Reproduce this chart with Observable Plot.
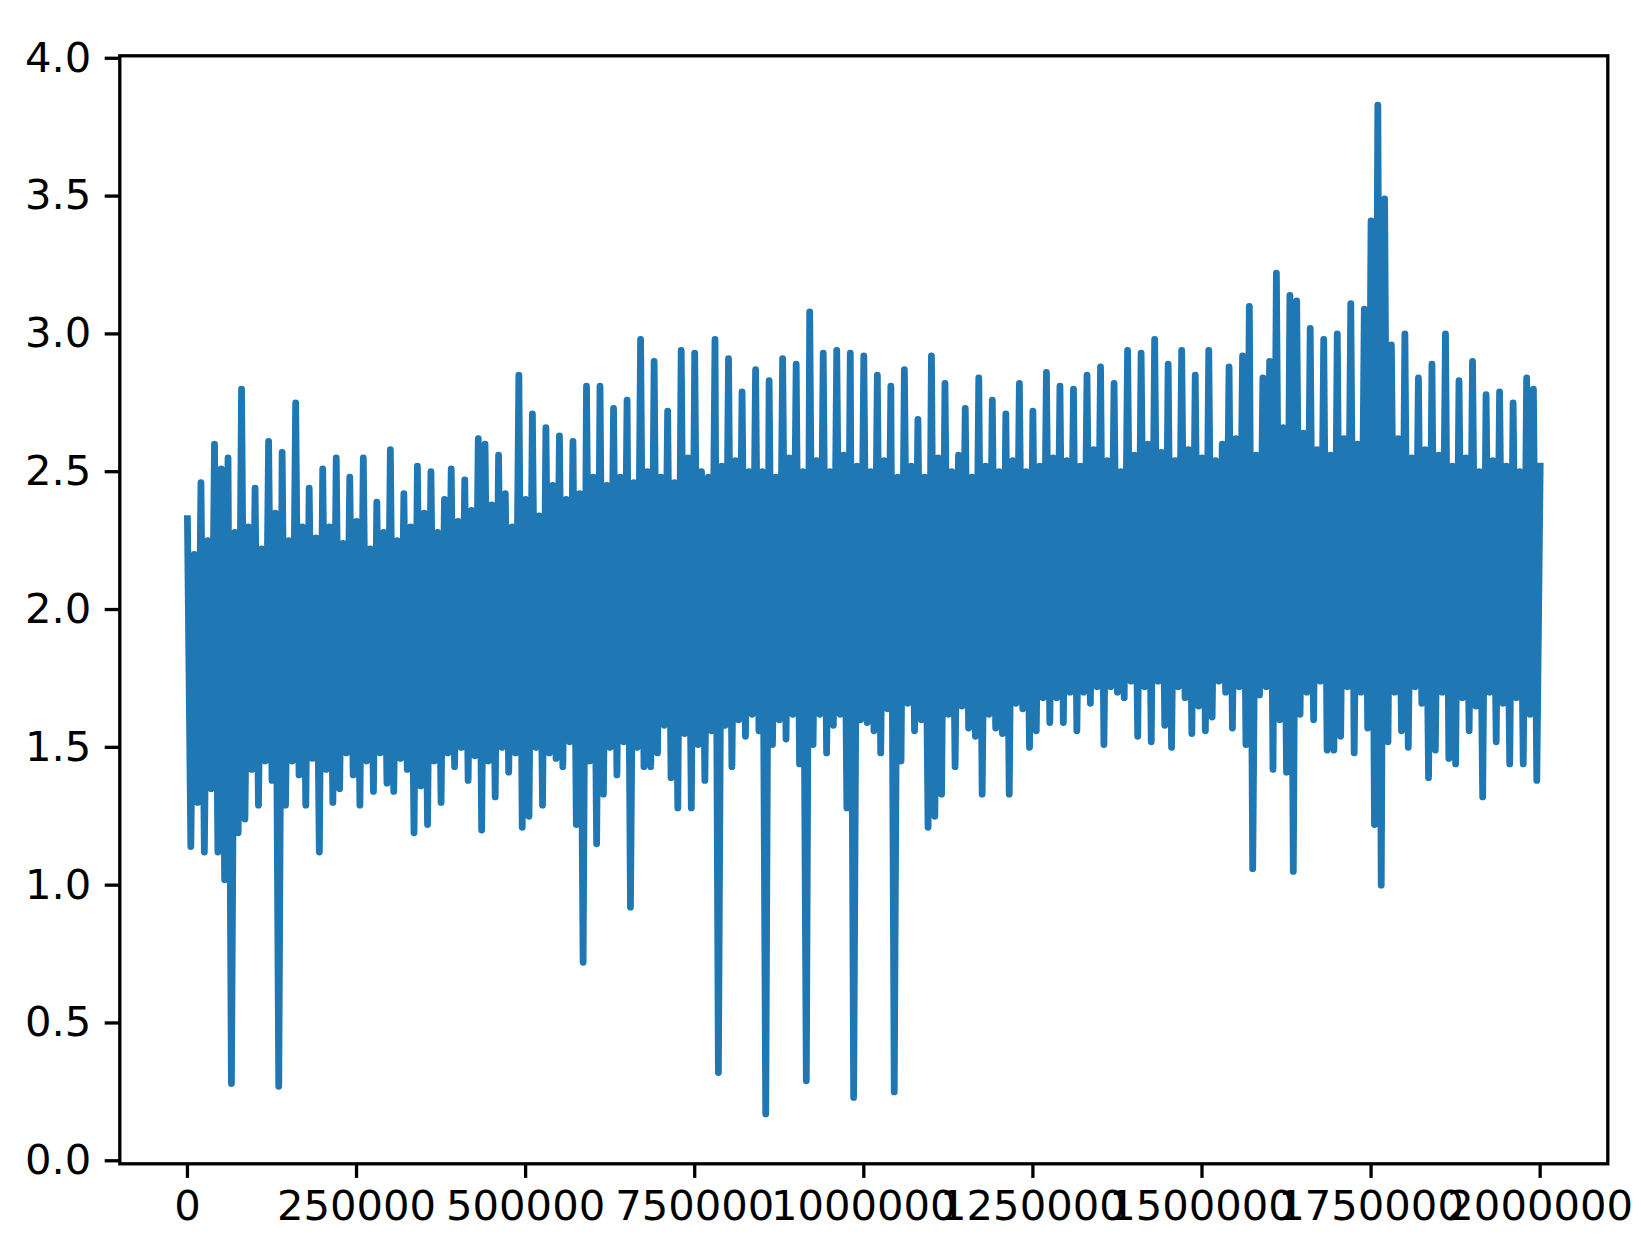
<!DOCTYPE html>
<html>
<head>
<meta charset="utf-8">
<script src="https://cdn.jsdelivr.net/npm/d3@7"></script>
<script src="https://cdn.jsdelivr.net/npm/@observablehq/plot@0.6"></script>
<style>
  html, body { margin: 0; padding: 0; background: #ffffff; }
  #chart { width: 1641px; height: 1241px; }
</style>
</head>
<body>
<div id="chart"></div>
<script>
// Sample spacing along x (one peak + one trough per step)
const sampleStep = 10000;

// Local maxima (one per step, starting at x = 0)
const peakValues = [
  2.33, 2.20, 2.46, 2.25, 2.60, 2.51, 2.55, 2.28, 2.80, 2.30,
  2.44, 2.22, 2.61, 2.35, 2.57, 2.25, 2.75, 2.30, 2.44, 2.26,
  2.51, 2.30, 2.55, 2.24, 2.48, 2.32, 2.55, 2.22, 2.39, 2.28,
  2.58, 2.25, 2.42, 2.30, 2.52, 2.35, 2.50, 2.28, 2.40, 2.51,
  2.32, 2.47, 2.36, 2.62, 2.60, 2.38, 2.56, 2.42, 2.30, 2.85,
  2.40, 2.71, 2.34, 2.66, 2.45, 2.63, 2.40, 2.61, 2.42, 2.81,
  2.48, 2.81, 2.45, 2.73, 2.48, 2.76, 2.46, 2.98, 2.50, 2.90,
  2.48, 2.72, 2.46, 2.94, 2.55, 2.93, 2.50, 2.48, 2.98, 2.52,
  2.91, 2.54, 2.79, 2.50, 2.87, 2.50, 2.83, 2.48, 2.91, 2.55,
  2.89, 2.50, 3.08, 2.54, 2.93, 2.50, 2.94, 2.56, 2.93, 2.52,
  2.92, 2.50, 2.85, 2.54, 2.81, 2.48, 2.87, 2.52, 2.69, 2.48,
  2.92, 2.55, 2.82, 2.50, 2.56, 2.73, 2.48, 2.84, 2.52, 2.76,
  2.50, 2.71, 2.54, 2.82, 2.50, 2.72, 2.52, 2.86, 2.55, 2.81,
  2.54, 2.80, 2.52, 2.85, 2.58, 2.88, 2.54, 2.82, 2.50, 2.94,
  2.56, 2.93, 2.60, 2.98, 2.57, 2.89, 2.54, 2.94, 2.58, 2.85,
  2.55, 2.94, 2.54, 2.60, 2.88, 2.62, 2.92, 3.10, 2.56, 2.84,
  2.90, 3.22, 2.66, 3.14, 3.12, 2.64, 3.02, 2.58, 2.98, 2.56,
  3.00, 2.62, 3.11, 2.60, 3.09, 3.41, 3.83, 3.49, 2.96, 2.62,
  3.00, 2.55, 2.84, 2.58, 2.89, 2.56, 3.00, 2.52, 2.83, 2.55,
  2.90, 2.50, 2.78, 2.54, 2.79, 2.52, 2.75, 2.50, 2.84, 2.80
];

// Local minima (one per step, half a step after each peak)
const troughValues = [
  1.14, 1.30, 1.12, 1.35, 1.12, 1.02, 0.28, 1.19, 1.24, 1.42,
  1.29, 1.45, 1.38, 0.27, 1.29, 1.45, 1.40, 1.29, 1.46, 1.12,
  1.42, 1.30, 1.35, 1.48, 1.40, 1.29, 1.45, 1.34, 1.48, 1.37,
  1.34, 1.46, 1.42, 1.19, 1.36, 1.22, 1.45, 1.30, 1.48, 1.43,
  1.50, 1.38, 1.47, 1.20, 1.45, 1.32, 1.50, 1.41, 1.48, 1.21,
  1.25, 1.50, 1.29, 1.48, 1.46, 1.43, 1.52, 1.22, 0.72, 1.45,
  1.15, 1.33, 1.50, 1.40, 1.52, 0.92, 1.50, 1.43, 1.43, 1.48,
  1.58, 1.39, 1.28, 1.55, 1.28, 1.51, 1.38, 1.56, 0.32, 1.58,
  1.43, 1.60, 1.54, 1.62, 1.56, 0.17, 1.51, 1.60, 1.53, 1.62,
  1.44, 0.29, 1.51, 1.62, 1.48, 1.58, 1.62, 1.28, 0.23, 1.60,
  1.59, 1.56, 1.48, 1.64, 0.25, 1.45, 1.66, 1.56, 1.60, 1.21,
  1.25, 1.33, 1.62, 1.43, 1.65, 1.57, 1.54, 1.33, 1.62, 1.57,
  1.55, 1.33, 1.66, 1.64, 1.50, 1.56, 1.68, 1.59, 1.68, 1.59,
  1.70, 1.56, 1.70, 1.66, 1.72, 1.51, 1.72, 1.70, 1.68, 1.74,
  1.54, 1.72, 1.52, 1.74, 1.58, 1.50, 1.72, 1.68, 1.55, 1.65,
  1.56, 1.61, 1.74, 1.70, 1.57, 1.72, 1.51, 1.06, 1.69, 1.72,
  1.42, 1.60, 1.41, 1.05, 1.62, 1.70, 1.60, 1.74, 1.49, 1.49,
  1.54, 1.72, 1.48, 1.70, 1.57, 1.22, 1.00, 1.52, 1.70, 1.56,
  1.50, 1.72, 1.66, 1.39, 1.49, 1.70, 1.46, 1.44, 1.68, 1.56,
  1.65, 1.32, 1.70, 1.52, 1.66, 1.44, 1.68, 1.44, 1.62, 1.38
];

// Last sample at x = 2,000,000
const lastX = 2000000;
const lastValue = 2.52;

const xTicks = [0, 250000, 500000, 750000, 1000000, 1250000, 1500000, 1750000, 2000000];
const yTicks = [0.0, 0.5, 1.0, 1.5, 2.0, 2.5, 3.0, 3.5, 4.0];

const series = [];
peakValues.forEach((v, i) => {
  series.push({x: i * sampleStep, y: v});
  series.push({x: i * sampleStep + sampleStep / 2, y: troughValues[i]});
});
series.push({x: lastX, y: lastValue});

const chart = Plot.plot({
  width: 1641,
  height: 1241,
  marginLeft: 119.3,
  marginRight: 33.7,
  marginTop: 55.3,
  marginBottom: 77.7,
  style: {
    fontFamily: "'DejaVu Sans', sans-serif",
    fontSize: "41.7px",
    color: "#000000",
    background: "#ffffff"
  },
  x: {domain: [-100000, 2100000]},
  y: {domain: [-0.011, 4.009]},
  marks: [
    Plot.line(series, {
      x: "x", y: "y",
      stroke: "#1f77b4",
      strokeWidth: 6.8,
      strokeLinejoin: "round",
      strokeLinecap: "square"
    }),
    Plot.frame({stroke: "#000000", strokeWidth: 3.3}),
    Plot.axisX({
      ticks: xTicks,
      tickFormat: d3.format("d"),
      tickSize: 14.6,
      tickPadding: 12,
      strokeWidth: 3.3,
      label: null
    }),
    Plot.axisY({
      ticks: yTicks,
      tickFormat: d3.format(".1f"),
      tickSize: 14.6,
      tickPadding: 14,
      strokeWidth: 3.3,
      label: null
    })
  ]
});

document.getElementById("chart").appendChild(chart);
</script>
</body>
</html>
